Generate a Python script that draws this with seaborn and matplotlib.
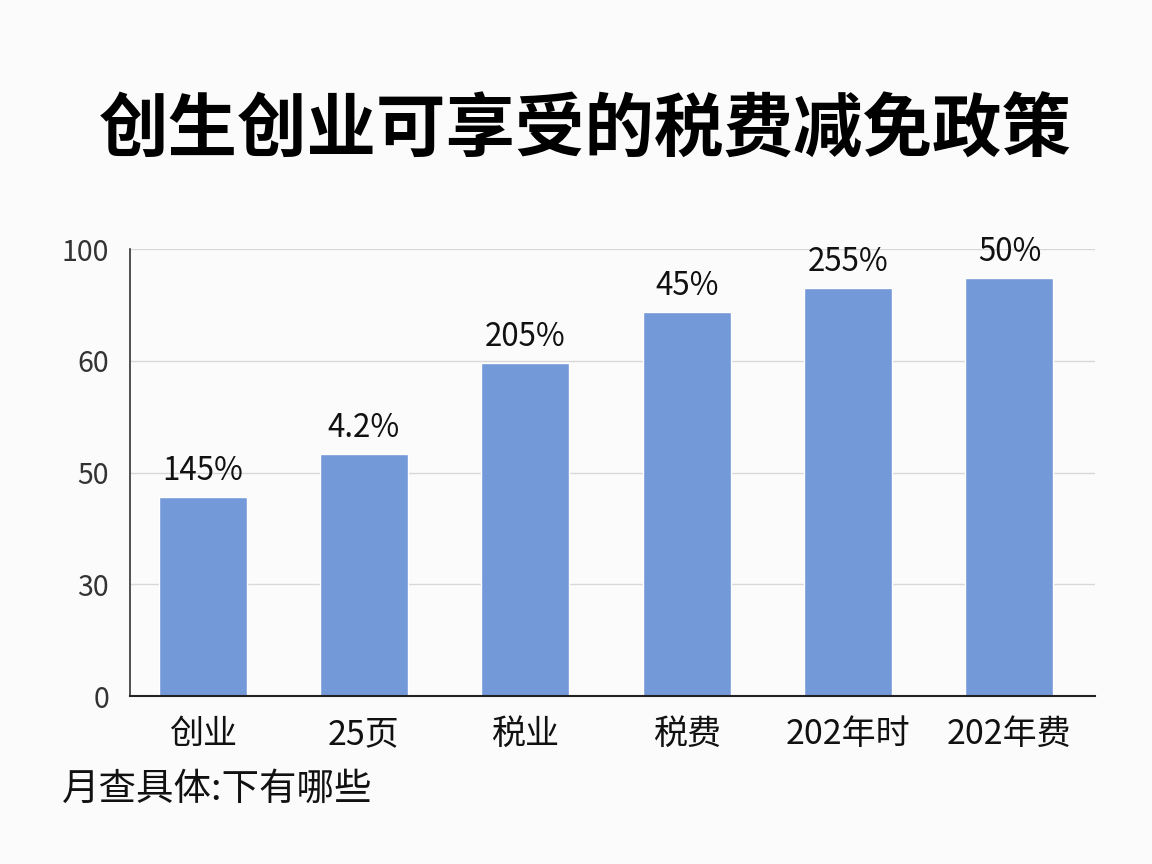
import numpy as np
import matplotlib
matplotlib.use("Agg")
import matplotlib.pyplot as plt
import seaborn as sns

# data
categories = ["创业", "25页", "税业", "税费", "202年时", "202年费"]
values = [45.7, 51.7, 59.8, 77.5, 86.2, 89.7]
value_labels = ["145%", "4.2%", "205%", "45%", "255%", "50%"]
y_ticks = [0, 30, 50, 60, 100]

title = "创生创业可享受的税费减免政策"
footnote = "月查具体:下有哪些"

BAR_COLOR = "#7499d9"
BG = "#fbfbfb"

sns.set_theme(style="white")
plt.rcParams["font.family"] = ["Noto Sans CJK SC", "DejaVu Sans"]

# the axis puts its uneven ticks at even spacing -> piecewise linear scale
_vals = np.array([-1000.0] + y_ticks + [1100.0])
_pos = np.interp(_vals, y_ticks, np.arange(len(y_ticks)), left=np.nan, right=np.nan)
_pos[0] = -1000.0 / 30.0
_pos[-1] = (len(y_ticks) - 1) + (1100.0 - 100.0) / 40.0


def forward(v):
    return np.interp(v, _vals, _pos)


def inverse(p):
    return np.interp(p, _pos, _vals)


fig = plt.figure(figsize=(11.52, 8.64), dpi=100, facecolor=BG)
ax = fig.add_axes([0.1128, 0.1944, 0.8377, 0.5174])
ax.set_facecolor(BG)

sns.barplot(x=categories, y=values, color=BAR_COLOR, width=0.545,
            saturation=1, ax=ax)
ax.set_yscale("function", functions=(forward, inverse))
ax.set_ylim(0, 100)
ax.set_xlim(-0.45, 5.53)
ax.set_yticks(y_ticks)
ax.set_yticklabels([str(t) for t in y_ticks])
ax.yaxis.set_minor_locator(matplotlib.ticker.NullLocator())

ax.grid(axis="y", color="#d8d8d8", linewidth=1)
ax.set_axisbelow(True)
for side in ["top", "right"]:
    ax.spines[side].set_visible(False)
ax.spines["left"].set_color("#333333")
ax.spines["bottom"].set_color("#222222")
ax.spines["left"].set_linewidth(1.2)
ax.spines["bottom"].set_linewidth(1.5)

ax.tick_params(axis="y", length=0, pad=15, labelsize=20.5, labelcolor="#333333")
ax.tick_params(axis="x", length=0, pad=15, labelsize=24.5, labelcolor="#111111")
ax.set_xlabel("")
ax.set_ylabel("")

ax.bar_label(ax.containers[0], labels=value_labels, padding=7,
             fontsize=22.5, color="#111111")

fig.text(0.508, 0.848, title, ha="center", va="center",
         fontsize=50, fontweight="bold", color="#000000")
fig.text(0.054, 0.087, footnote, ha="left", va="center",
         fontsize=27, color="#111111")

fig.savefig("out.png", dpi=100, facecolor=BG)
plt.close(fig)
